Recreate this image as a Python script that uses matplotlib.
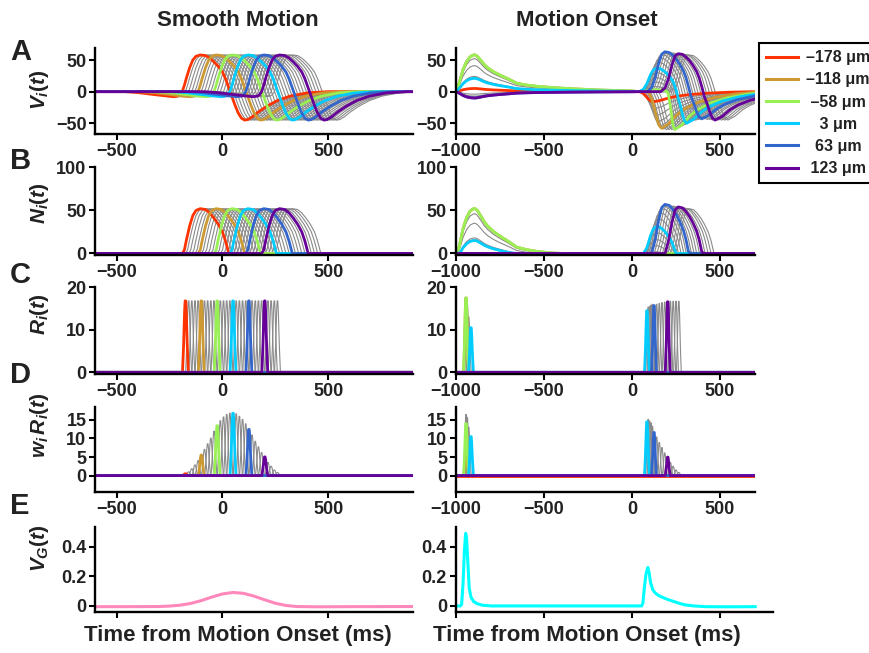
import numpy as np
import matplotlib
matplotlib.use("Agg")
import matplotlib.pyplot as plt
from matplotlib.lines import Line2D

plt.rcParams['font.family'] = ['Liberation Sans', 'DejaVu Sans']
plt.rcParams['font.weight'] = 'bold'
plt.rcParams['mathtext.fontset'] = 'custom'
plt.rcParams['mathtext.rm'] = 'Liberation Sans:bold'
plt.rcParams['mathtext.it'] = 'Liberation Sans:italic:bold'
plt.rcParams['mathtext.bf'] = 'Liberation Sans:bold'

TXT = '#222222'
GRAY = '#8a8a8a'

# highlighted neurons (index in the chain of 30)
hl_index = [0, 5, 10, 15, 20, 25]
hl_colors = ['#FF3300', '#CC9933', '#99F055', '#00CCFF', '#3366CC', '#660099']
hl_labels = ['\u2013178 \u03bcm', '\u2013118 \u03bcm', ' \u201358 \u03bcm',
             '   3 \u03bcm', '  63 \u03bcm', ' 123 \u03bcm']

# ---------- smooth motion ----------
# V(t) of the first neuron (-178 um)
sm_v_t = [-1000, -460, -400, -350, -300, -260, -230, -210, -200, -190, -180, -170,
          -155, -140, -125, -105, -80, -60, -40, -20, 0, 15, 30, 45, 60, 75, 90,
          105, 120, 140, 170, 210, 260, 320, 400, 500, 1500]
sm_v = [0, 0, -1.5, -3.5, -5.5, -7, -8, -7, -5, 0, 10, 22, 38, 50, 56, 58, 57, 53,
        47, 40, 31, 20, 6, -8, -22, -34, -42, -45, -44, -40, -32, -23, -14, -7,
        -2, 0, 0]
# lag of each neuron's response relative to the first one (ms)
sm_lag = [0, 15, 30, 45, 60, 75, 90, 105, 120, 135, 150, 165, 180, 195, 210,
          225, 240, 255, 270, 285, 300, 315, 330, 345, 360, 375, 390, 405, 420, 435]
sm_spike_t = -175      # burst time of the first neuron
sm_spike_h = 16.8

# rectification threshold V -> N
n_thresh = 6

# burst shape (ms from burst centre, fraction of height)
spk_dt = [-14, -9, -4, -1.5, 1.5, 4, 9, 14]
spk_v = [0, 0.35, 0.85, 1, 1, 0.85, 0.35, 0]

# synaptic weights w_i
weights = [0.03, 0.06, 0.11, 0.17, 0.24, 0.33, 0.42, 0.51, 0.6, 0.71, 0.8, 0.88,
           0.94, 0.98, 1.0, 1.0, 0.99, 0.95, 0.9, 0.83, 0.74, 0.65, 0.55, 0.46,
           0.37, 0.3, 0.21, 0.15, 0.09, 0.05]

# V_G(t) smooth motion
vg_sm_t = [-600, -450, -300, -250, -200, -150, -100, -50, 0, 50, 100, 150, 200,
           250, 300, 350, 450, 600, 900]
vg_sm = [-0.005, -0.005, -0.004, -0.001, 0.005, 0.017, 0.036, 0.06, 0.081, 0.091,
         0.085, 0.066, 0.041, 0.018, 0.003, -0.004, -0.006, -0.005, -0.004]

# ---------- motion onset ----------
# transient after the stimulus appears at -1000 ms (fraction of peak)
ft_t = [-1000, -990, -975, -960, -940, -920, -900, -892, -880, -860, -840, -820,
        -788, -750, -700, -655, -600, -540, -466, -400, -300, -182, -80, 0, 40]
ft_v = [0, 0.12, 0.35, 0.6, 0.82, 0.95, 1.0, 1.0, 0.97, 0.86, 0.74, 0.65, 0.545,
        0.45, 0.34, 0.23, 0.18, 0.145, 0.117, 0.095, 0.07, 0.045, 0.03, 0.02, 0]
mo_first = [5, 58, 58, 58, 58, 58, 58, 58, 58, 58, 58, 52, 41, 24, 22, 21, -4, -7,
            -9, -10, -10, -10, -10, -10, -10, -10, -10, -10, -10, -10]

# response after motion onset: peak (time, value) and trough (time, depth)
mo_peak_t = [-79, -70, -60, -50, -40, -31, -20, -5, 10, 27, 130, 132, 135, 137,
             139, 140, 150, 160, 170, 178, 187, 202, 217, 232, 248, 263, 278, 293,
             308, 323]
mo_peak_v = [0, 0, 0, 0, 0, 0, 0, 0, 0, 0, 3, 8, 15, 22, 30, 37, 46, 53, 58, 61, 63,
             62, 61, 61, 60, 60, 59, 59, 58, 58]
mo_trough_t = [121, 130, 140, 150, 160, 169, 180, 195, 210, 227, 244, 258, 272,
               285, 298, 311, 328, 345, 362, 379, 396, 411, 426, 441, 457, 472,
               490, 508, 526, 544]
mo_trough_v = [16, 27, 38, 48, 55, 58, 59, 60, 60, 60, 60, 58, 56, 54, 52, 50, 48,
               46, 45, 44, 43, 43, 44, 44, 45, 45, 45, 45, 45, 45]
# shapes of the rise, peak-to-trough swing and recovery
rise_dt = [-100, -75, -55, -35, -18, 0]
rise_v = [0, 0.1, 0.35, 0.72, 0.94, 1]
swing_s = [0.12, 0.21, 0.31, 0.40, 0.50, 0.57, 0.64, 0.71, 0.79, 0.86, 0.93]
swing_a = [0.98, 0.91, 0.81, 0.69, 0.53, 0.36, 0.15, 0, 0, 0, 0]
swing_b = [0, 0, 0, 0, 0, 0, 0.03, 0.18, 0.45, 0.73, 0.93]
rec_dt = [0, 40, 86, 130, 200, 300, 420, 550, 1000]
rec_v = [1, 0.87, 0.63, 0.47, 0.3, 0.16, 0.06, 0.01, 0]

# bursts R_i(t) in motion onset
mo_spk1_t = [-943, -943, -943, -943, -943, -943, -943, -943, -943, -943, -943,
             -943, -943, -936, -928, -915, 0, 0, 0, 0, 0, 0, 0, 0, 0, 0, 0, 0, 0, 0]
mo_spk1_h = [0, 17.5, 17.5, 17.5, 17.5, 17.5, 17.5, 17.5, 17.5, 17.5, 17.5, 17.5,
             17.5, 16, 13, 10.5, 0, 0, 0, 0, 0, 0, 0, 0, 0, 0, 0, 0, 0, 0]
mo_spk2_t = [0, 0, 0, 0, 0, 0, 0, 0, 0, 0, 0, 0, 0, 0, 0,
             85, 92, 100, 108, 116, 125, 140, 155, 170, 186, 203, 218, 234, 250, 266]
mo_spk2_h = [0, 0, 0, 0, 0, 0, 0, 0, 0, 0, 0, 0, 0, 0, 0,
             14.5, 15.3, 15.5, 15.8, 16, 15.7, 16, 16.2, 16.4, 16.5, 16.6, 16.7,
             16.7, 16.7, 16.7]

# V_G(t) motion onset
vg_mo_t = [-1000, -975, -968, -960, -952, -945, -940, -933, -925, -915, -900, -880,
           -850, -800, -700, 0, 55, 62, 70, 80, 90, 98, 105, 118, 130, 145, 161,
           200, 237, 270, 302, 350, 420, 550, 700]
vg_mo = [0, 0, 0.01, 0.15, 0.38, 0.49, 0.46, 0.3, 0.12, 0.06, 0.03, 0.015, 0.005, 0,
         0, 0, 0, 0.02, 0.12, 0.22, 0.26, 0.22, 0.16, 0.11, 0.09, 0.075, 0.064,
         0.045, 0.03, 0.017, 0.007, 0.0, -0.005, -0.006, -0.005]


def sm_voltage(k):
    return np.array(sm_v_t) + sm_lag[k], np.array(sm_v, dtype=float)


def mo_voltage(k):
    t1 = np.array(ft_t, dtype=float)
    v1 = mo_first[k] * np.array(ft_v)
    tp, P = mo_peak_t[k], mo_peak_v[k]
    tq, Q = mo_trough_t[k], mo_trough_v[k]
    t2 = np.concatenate([tp + np.array(rise_dt),
                         tp + np.array(swing_s) * (tq - tp),
                         tq + np.array(rec_dt)])
    v2 = np.concatenate([P * np.array(rise_v),
                         P * np.array(swing_a) - Q * np.array(swing_b),
                         -Q * np.array(rec_v)])
    keep = t2 > t1[-1]
    return np.concatenate([t1, t2[keep]]), np.concatenate([v1, v2[keep]])


def bursts(times, heights):
    t, v = [-2000.0], [0.0]
    for t0, h in sorted(zip(times, heights)):
        if h > 0:
            t += list(t0 + np.array(spk_dt))
            v += list(h * np.array(spk_v))
    return np.array(t + [2000.0]), np.array(v + [0.0])


def rect(v):
    return np.maximum(v - n_thresh, 0)


def draw(ax, curves):
    for k, (t, v) in enumerate(curves):
        if k not in hl_index:
            ax.plot(t, v, color=GRAY, lw=0.8)
    for k, c in zip(hl_index, hl_colors):
        t, v = curves[k]
        ax.plot(t, v, color=c, lw=2.0, solid_capstyle='butt')


W, H = 870, 653
fig = plt.figure(figsize=(W / 100, H / 100), dpi=100)


def px_axes(x0, x1, ytop, ybot):
    return fig.add_axes([x0 / W, 1 - ybot / H, (x1 - x0) / W, (ybot - ytop) / H])


rows = [  # top px, bottom px, ylim, yticks, ylabels
    (48.3, 134.3, (-67.4, 68.5), [-50, 0, 50], ['\u221250', '0', '50']),
    (167.3, 254.5, (-1.2, 100), [0, 50, 100], ['0', '50', '100']),
    (287.3, 373.6, (-0.3, 20), [0, 10, 20], ['0', '10', '20']),
    (407.3, 492.3, (-4.5, 18.4), [0, 5, 10, 15], ['0', '5', '10', '15']),
    (526.7, 612.3, (-0.043, 0.535), [0, 0.2, 0.4], ['0', '0.2', '0.4']),
]

sm_V = [sm_voltage(k) for k in range(30)]
mo_V = [mo_voltage(k) for k in range(30)]
sm_R = [bursts([sm_spike_t + sm_lag[k]], [sm_spike_h]) for k in range(30)]
mo_R = [bursts([mo_spk1_t[k], mo_spk2_t[k]], [mo_spk1_h[k], mo_spk2_h[k]])
        for k in range(30)]

panels = {
    'sm': [sm_V,
           [(t, rect(v)) for t, v in sm_V],
           sm_R,
           [(t, weights[k] * v) for k, (t, v) in enumerate(sm_R)]],
    'mo': [mo_V,
           [(t, rect(v)) for t, v in mo_V],
           mo_R,
           [(t, weights[k] * v) for k, (t, v) in enumerate(mo_R)]],
}

cols = {
    'sm': (95.5, 412.9, (-600, 900), [-500, 0, 500], ['\u2212500', '0', '500']),
    'mo': (456.0, 755.2, (-1000, 700), [-1000, -500, 0, 500],
           ['\u22121000', '\u2212500', '0', '500']),
}

for key, (x0, x1, xlim, xt, xtl) in cols.items():
    for r, (yt, yb, ylim, yticks, ytl) in enumerate(rows):
        xr = x1
        xl = xlim
        if key == 'mo' and r == 4:
            xr = 772.8
            xl = (-1000, 800)
        ax = px_axes(x0, xr, yt, yb)
        if r < 4:
            draw(ax, panels[key][r])
        elif key == 'sm':
            ax.plot(vg_sm_t, vg_sm, color='#FF88BB', lw=2.2)
        else:
            ax.plot(vg_mo_t, vg_mo, color='#00FFFF', lw=2.2)
        ax.set_xlim(*xl)
        ax.set_ylim(*ylim)
        ax.set_xticks(xt)
        ax.set_xticklabels(xtl)
        ax.set_yticks(yticks)
        ax.set_yticklabels(ytl)
        for s in ['top', 'right']:
            ax.spines[s].set_visible(False)
        for s in ['left', 'bottom']:
            ax.spines[s].set_linewidth(1.7)
            ax.spines[s].set_color('black')
        ax.tick_params(direction='out', length=4.5, width=1.5, labelsize=13,
                       labelcolor=TXT, pad=2)
        if r == 4:
            ax.tick_params(labelbottom=False)
        ax.patch.set_visible(False)

# column titles and x labels
for xc, title in [(238, 'Smooth Motion'), (587, 'Motion Onset')]:
    fig.text(xc / W, 1 - 20 / H, title, ha='center', va='center', fontsize=16,
             color=TXT)
    fig.text(xc / W, 1 - 635 / H, 'Time from Motion Onset (ms)', ha='center',
             va='center', fontsize=16, color=TXT)

# panel letters
for letter, yc in zip('ABCDE', [52, 161, 275, 375, 506]):
    fig.text(10 / W, 1 - yc / H, letter, ha='left', va='center', fontsize=21,
             fontweight='heavy', color=TXT)

# y labels
ylabels = [r'$V_i(t)$', r'$N_i(t)$', r'$R_i(t)$', r'$w_i\,R_i(t)$', r'$V_G(t)$']
for lab, yc in zip(ylabels, [90, 203, 314, 425, 548]):
    fig.text(40 / W, 1 - yc / H, lab, rotation=90, ha='center', va='center',
             fontsize=15, color=TXT)

handles = [Line2D([], [], color=c, lw=2.2) for c in hl_colors]
leg = fig.legend(handles, hl_labels, loc='upper left',
                 bbox_to_anchor=(759 / W, 1 - 43 / H), borderaxespad=0,
                 frameon=True, fancybox=False, edgecolor='black', framealpha=1,
                 fontsize=11.5, handlelength=2.0, handletextpad=0.5,
                 labelspacing=0.45, borderpad=0.45)
leg.get_frame().set_linewidth(1.5)
for txt in leg.get_texts():
    txt.set_color(TXT)

fig.savefig('out.png', dpi=100)
